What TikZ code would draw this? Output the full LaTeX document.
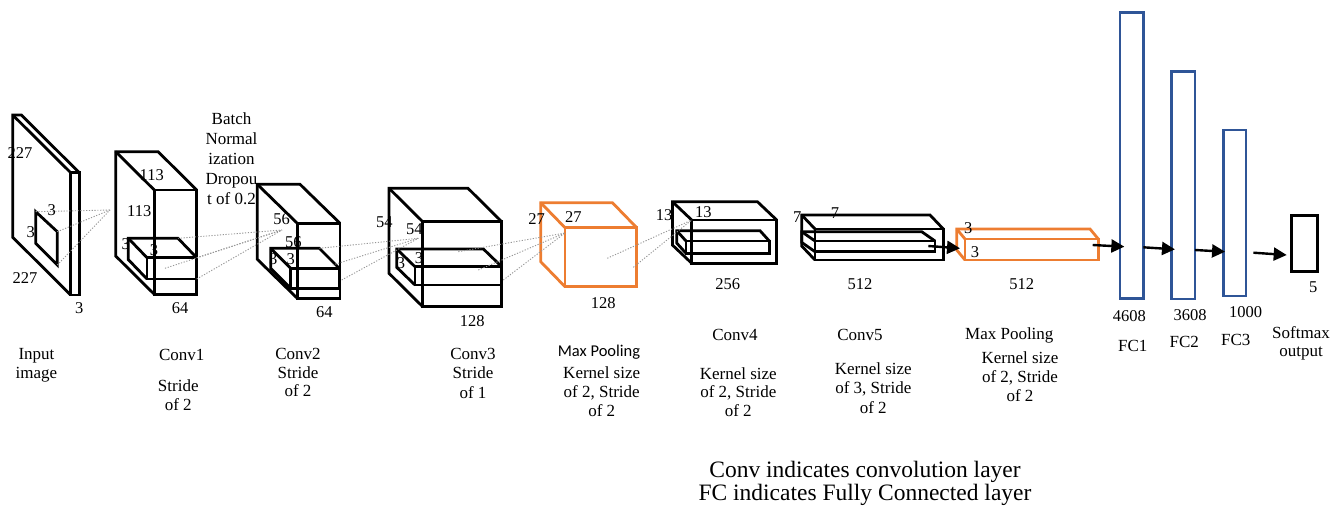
\documentclass[tikz,border=0pt]{standalone}
\usepackage{fontspec}
\setmainfont{Liberation Serif}
\newfontfamily\carlito{Carlito}
\usetikzlibrary{arrows.meta,calc}
\definecolor{orng}{RGB}{237,125,49}
\definecolor{fcblue}{RGB}{47,85,151}
\definecolor{dotgray}{RGB}{150,150,150}
\tikzset{
  blk/.style={line width=2.8pt,black},
  org/.style={line width=2.8pt,orng},
  fcbox/.style={draw=fcblue,line width=2.6pt,inner sep=0pt,outer sep=0pt},
  smbox/.style={draw=black,line width=2.6pt,inner sep=0pt,outer sep=0pt},
  dotln/.style={dotgray,line width=0.9pt,dash pattern=on 1.2pt off 1.6pt},
  arr/.style={line width=2.4pt,-{Triangle[length=13pt,width=13pt]}},
  lbl/.style={font=\fontsize{16.5}{19}\selectfont,inner sep=0pt,align=center},
  captxt/.style={font=\fontsize{17}{19}\selectfont,inner sep=0pt,align=center},
  bigtxt/.style={font=\fontsize{23.5}{23.3}\selectfont,inner sep=0pt,align=center},
}
% #1 name, #2 style, #3 x1, #4 y1, #5 x2, #6 y2 (front face), #7 dx, #8 dy (depth to back, up-left)
\newcommand\mycuboid[8]{%
  \coordinate (#1-ftl) at (#3,#4);
  \coordinate (#1-ftr) at (#5,#4);
  \coordinate (#1-fbl) at (#3,#6);
  \coordinate (#1-fbr) at (#5,#6);
  \coordinate (#1-btl) at ({#3-#7},{#4-#8});
  \coordinate (#1-btr) at ({#5-#7},{#4-#8});
  \coordinate (#1-bbl) at ({#3-#7},{#6-#8});
  \draw[#2] (#1-ftl) rectangle (#1-fbr);
  \draw[#2] (#1-fbl) -- (#1-bbl) -- (#1-btl) -- (#1-btr) -- (#1-ftr);
  \draw[#2] (#1-btl) -- (#1-ftl);
}
\begin{document}
\begin{tikzpicture}[x=1pt,y=-1pt]
\useasboundingbox (0,0) rectangle (1341,518);

% text behind the boxes
\node[captxt,font=\fontsize{17}{20.2}\selectfont] (bn) at (231.5,158.7) {Batch\\Normal\\ization\\Dropou\\t of 0.2};

% input slab
\mycuboid{inp}{blk}{70.7}{172.7}{79.3}{295}{58}{57.7}
\coordinate (sqtl) at (35.7,211.7);
\coordinate (sqtr) at (57.3,231.7);
\coordinate (sqbr) at (57.3,265);
\coordinate (sqbl) at (35.7,243.3);
\draw[blk] (sqtl) -- (sqtr) -- (sqbr) -- (sqbl) -- cycle;

% conv1
\mycuboid{c1o}{blk}{154.3}{190}{196.7}{294.3}{38.6}{38.3}
\mycuboid{c1i}{blk}{147}{257.7}{196.7}{279}{18.7}{19.4}
% conv2
\mycuboid{c2o}{blk}{297.3}{223.3}{340}{298.3}{40}{39}
\mycuboid{c2i}{blk}{290.7}{268.3}{339.3}{288.3}{20}{20}
% conv3
\mycuboid{c3o}{blk}{422.7}{221.7}{501.7}{306.7}{33.7}{33.4}
\mycuboid{c3i}{blk}{415}{266.7}{501.7}{285}{18.3}{17.7}
% max pooling 1
\mycuboid{mp1}{org}{565}{227.7}{636.7}{286.7}{24.3}{25}
% conv4
\mycuboid{c4o}{blk}{691.7}{220}{776.7}{263.3}{19.3}{18.3}
\mycuboid{c4i}{blk}{686}{241}{769.3}{253.3}{9.3}{10.3}
% conv5
\mycuboid{c5o}{blk}{815}{229}{943.3}{260}{13.3}{14}
\mycuboid{c5i}{blk}{815}{241}{935}{251.7}{13.3}{9.3}
% max pooling 2
\mycuboid{mp2}{org}{965}{239}{1098.3}{260}{8.3}{10}

% fully connected layers
\node[fcbox,minimum width=23.3pt,minimum height=285.6pt] (fc1) at (1131.7,155.5) {};
\node[fcbox,minimum width=23.3pt,minimum height=227.3pt] (fc2) at (1183.3,185.35) {};
\node[fcbox,minimum width=22.7pt,minimum height=166pt] (fc3) at (1234.7,213) {};
\node[smbox,minimum width=25.6pt,minimum height=56pt] (sm) at (1304.5,243.7) {};

% dotted projection lines
\coordinate (j1) at (110,210);
\draw[dotln] (sqtl) -- (j1);
\draw[dotln] (sqtr) -- (j1);
\draw[dotln] (sqbr) -- (j1);

\coordinate (j2) at (282,230);
\coordinate (p1a) at (165,268.3);
\draw[dotln] (c1i-btr) -- (j2);
\draw[dotln] (c1i-ftr) -- (j2);
\draw[dotln] (p1a) -- (j2);
\draw[dotln] (c1i-fbr) -- (j2);

\coordinate (j3) at (418.3,238.3);
\coordinate (p2b) at (332.7,265);
\coordinate (p2c) at (341.7,280);
\draw[dotln] (c2i-btr) -- (j3);
\draw[dotln] (p2b) -- (j3);
\draw[dotln] (p2c) -- (j3);

\coordinate (j4) at (565,233);
\coordinate (p3a) at (458.3,251.7);
\coordinate (p3b) at (478.3,270);
\coordinate (p3c) at (503.3,280);
\draw[dotln] (p3a) -- (j4);
\draw[dotln] (p3b) -- (j4);
\draw[dotln] (p3c) -- (j4);

\coordinate (p4a) at (607.3,258.3);
\coordinate (p4b) at (633.3,267.3);
\draw[dotln] (p4a) -- (c4o-ftl);
\draw[dotln] (p4b) -- (c4o-ftl);

% arrows
\coordinate (a5s) at (928.3,246);
\draw[arr] (a5s) -- ($(mp2-fbl)+(-5,-11.7)$);
\coordinate (a6s) at (1092.7,245);
\draw[arr] (a6s) -- ($(fc1.west)+(4.3,91.2)$);
\draw[arr] ($(fc1.east)+(0,91.8)$) -- ($(fc2.west)+(3.3,64)$);
\draw[arr] ($(fc2.east)+(0,64.65)$) -- ($(fc3.west)+(1.7,38.7)$);
\draw[arr] ($(fc3.east)+(7.3,39.7)$) -- ($(sm.west)+(-5,11.3)$);

% dimension labels
\node[lbl] (l1) at (20,153.3) {227};
\node[lbl] (l2) at (51.7,210) {3};
\node[lbl] (l3) at (30.7,231.7) {3};
\node[lbl] (l4) at (25,278.3) {227};
\node[lbl] (l5) at (79.3,308.3) {3};

\node[lbl] (l6) at (151.7,175) {113};
\node[lbl] (l7) at (139.3,210.7) {113};
\node[lbl] (l8) at (125.7,244.3) {3};
\node[lbl] (l9) at (154,250) {3};
\node[lbl] (l10) at (180,308.3) {64};

\node[lbl] (l11) at (281.7,219.3) {56};
\node[lbl] (l12) at (293.3,241.7) {56};
\node[lbl] (l13) at (273.3,259.3) {3};
\node[lbl] (l14) at (290.7,259.3) {3};
\node[lbl] (l15) at (324.3,311.7) {64};

\node[lbl] (l16) at (384.3,221.7) {54};
\node[lbl] (l17) at (414.3,229.3) {54};
\node[lbl] (l18) at (401,263.3) {3};
\node[lbl] (l19) at (419,258.3) {3};
\node[lbl] (l20) at (472.3,320.7) {128};

\node[lbl] (l21) at (536.7,219.3) {27};
\node[lbl] (l22) at (573.3,216.7) {27};
\node[lbl] (l23) at (603.3,302.7) {128};

\node[lbl] (l24) at (664,215) {13};
\node[lbl] (l25) at (703.3,212.3) {13};
\node[lbl] (l26) at (727.7,284) {256};

\node[lbl] (l27) at (797.3,216.7) {7};
\node[lbl] (l28) at (835,213.3) {7};
\node[lbl] (l29) at (860,284.3) {512};

\node[lbl] (l30) at (968.3,228.3) {3};
\node[lbl] (l31) at (975,251.7) {3};
\node[lbl] (l32) at (1021.7,284.3) {512};

\node[lbl] (l33) at (1129.3,316) {4608};
\node[lbl] (l34) at (1190,315) {3608};
\node[lbl] (l35) at (1245.7,311.7) {1000};
\node[lbl] (l36) at (1313.3,287.3) {5};

% layer captions
\node[captxt] (t1) at (36.5,365.5) {Input\\image};
\node[captxt] (t2) at (181.7,355) {Conv1};
\node[captxt] (t3) at (178.3,395.5) {Stride\\of 2};
\node[captxt,font=\fontsize{17}{18.5}\selectfont] (t4) at (298,372.5) {Conv2\\Stride\\of 2};
\node[captxt,font=\fontsize{17}{19.5}\selectfont] (t5) at (473,373) {Conv3\\Stride\\of 1};
\node[captxt,font=\carlito\fontsize{16.5}{19}\selectfont] (t6) at (599,351.7) {Max Pooling};
\node[captxt,font=\fontsize{17}{19.3}\selectfont] (t7) at (601.7,391.7) {Kernel size\\of 2, Stride\\of 2};
\node[captxt] (t8) at (735,335) {Conv4};
\node[captxt,font=\fontsize{17}{18.5}\selectfont] (t9) at (738.3,391.7) {Kernel size\\of 2, Stride\\of 2};
\node[captxt] (t10) at (860,335) {Conv5};
\node[captxt,font=\fontsize{17}{19.5}\selectfont] (t11) at (873.3,388) {Kernel size\\of 3, Stride\\of 2};
\node[captxt] (t12) at (1009.3,335) {Max Pooling};
\node[captxt,font=\fontsize{17}{18.9}\selectfont] (t13) at (1020,376.3) {Kernel size\\of 2, Stride\\of 2};
\node[captxt] (t14) at (1132.7,345.7) {FC1};
\node[captxt] (t15) at (1184.3,342.3) {FC2};
\node[captxt] (t16) at (1235.7,340) {FC3};
\node[captxt,font=\fontsize{17}{18.4}\selectfont] (t17) at (1301,343.5) {Softmax\\output};

\node[bigtxt] (note) at (865,483.3) {Conv indicates convolution layer\\FC indicates Fully Connected layer};
\end{tikzpicture}
\end{document}
